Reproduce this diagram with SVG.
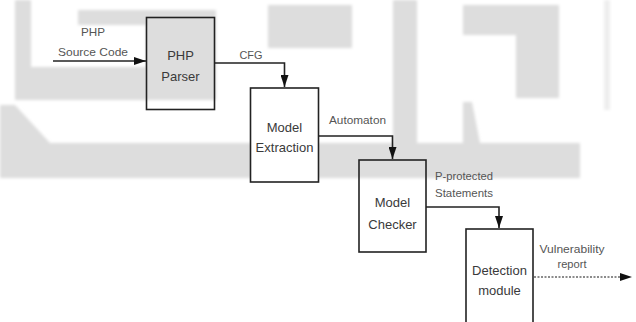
<svg xmlns="http://www.w3.org/2000/svg" width="636" height="322" viewBox="0 0 636 322">
<style>
.wm{fill:#dddddd}
.box{fill:none;stroke:#222;stroke-width:1.6}
.boxw{fill:#fff;stroke:#222;stroke-width:1.6}
.nt{font-family:"Liberation Sans",Arial,sans-serif;font-size:13px;fill:#3a3a3a;text-anchor:middle}
.lt{font-family:"Liberation Sans",Arial,sans-serif;font-size:10.5px;fill:#555;text-anchor:middle}
.ltl{font-family:"Liberation Sans",Arial,sans-serif;font-size:10.5px;fill:#555}
.edge{fill:none;stroke:#222;stroke-width:1.6}
.dot{fill:none;stroke:#666;stroke-width:1.3;stroke-dasharray:2 1.5}
</style>
<defs>
<filter id="soft" x="-5%" y="-5%" width="110%" height="110%"><feGaussianBlur stdDeviation="1.6"/></filter>
<marker id="ah" markerUnits="userSpaceOnUse" viewBox="0 0 12 8" markerWidth="12" markerHeight="8" refX="12" refY="4" orient="auto"><path d="M0,0 L12,4 L0,8 z" fill="#111"/></marker>
</defs>
<rect width="636" height="322" fill="#fff"/>
<g id="watermark" filter="url(#soft)">
<rect class="wm" x="15" y="0" width="16" height="100"/>
<rect class="wm" x="78" y="10" width="138" height="15"/>
<rect class="wm" x="146" y="10" width="70" height="85"/>
<rect class="wm" x="15" y="67" width="201" height="33"/>
<polygon class="wm" points="0,105 15,105 50,143 0,143"/>
<rect class="wm" x="0" y="143" width="580" height="35"/>
<rect class="wm" x="268" y="5" width="84" height="43"/>
<rect class="wm" x="393" y="0" width="24" height="143"/>
<rect class="wm" x="463" y="5" width="96" height="30"/>
<rect class="wm" x="516" y="35" width="43" height="63"/>
<polygon class="wm" points="463,102 472,102 480,143 463,143"/>
<rect x="604" y="0" width="6" height="110" fill="#eeeeee"/>
</g>
<g id="connectors">
<line class="edge" x1="53" y1="61" x2="146" y2="61" marker-end="url(#ah)"/>
<polyline class="edge" points="214,63 284.5,63 284.5,87" marker-end="url(#ah)"/>
<polyline class="edge" points="318,136 392.5,136 392.5,159" marker-end="url(#ah)"/>
<polyline class="edge" points="426,207 499,207 499,228" marker-end="url(#ah)"/>
<line class="dot" x1="534" y1="277" x2="621" y2="277"/>
<path d="M620,273 L632,277 L620,281 z" fill="#111"/>
<text class="lt" x="93" y="36" textLength="24" lengthAdjust="spacingAndGlyphs">PHP</text>
<text class="lt" x="93" y="56" textLength="70" lengthAdjust="spacingAndGlyphs">Source Code</text>
<text class="lt" x="251" y="59" textLength="23" lengthAdjust="spacingAndGlyphs">CFG</text>
<text class="lt" x="357.5" y="124" textLength="57" lengthAdjust="spacingAndGlyphs">Automaton</text>
<text class="ltl" x="435" y="180" textLength="58" lengthAdjust="spacingAndGlyphs">P-protected</text>
<text class="ltl" x="435" y="197" textLength="58" lengthAdjust="spacingAndGlyphs">Statements</text>
<text class="lt" x="572" y="253" textLength="65" lengthAdjust="spacingAndGlyphs">Vulnerability</text>
<text class="lt" x="572" y="268" textLength="29" lengthAdjust="spacingAndGlyphs">report</text>
</g>
<g id="php-parser">
<rect class="box" x="146.5" y="17.5" width="68" height="92"/>
<text class="nt" x="180.5" y="60">PHP</text>
<text class="nt" x="180.5" y="81">Parser</text>
</g>
<g id="model-extraction">
<rect class="boxw" x="250.5" y="88" width="68" height="94"/>
<text class="nt" x="284.5" y="132">Model</text>
<text class="nt" x="284.5" y="152">Extraction</text>
</g>
<g id="model-checker">
<rect class="box" x="359" y="160" width="67" height="92"/>
<text class="nt" x="392.5" y="207">Model</text>
<text class="nt" x="392.5" y="229">Checker</text>
</g>
<g id="detection-module">
<rect class="boxw" x="466" y="229" width="67" height="100"/>
<text class="nt" x="499.5" y="275">Detection</text>
<text class="nt" x="499.5" y="295">module</text>
</g>
</svg>
